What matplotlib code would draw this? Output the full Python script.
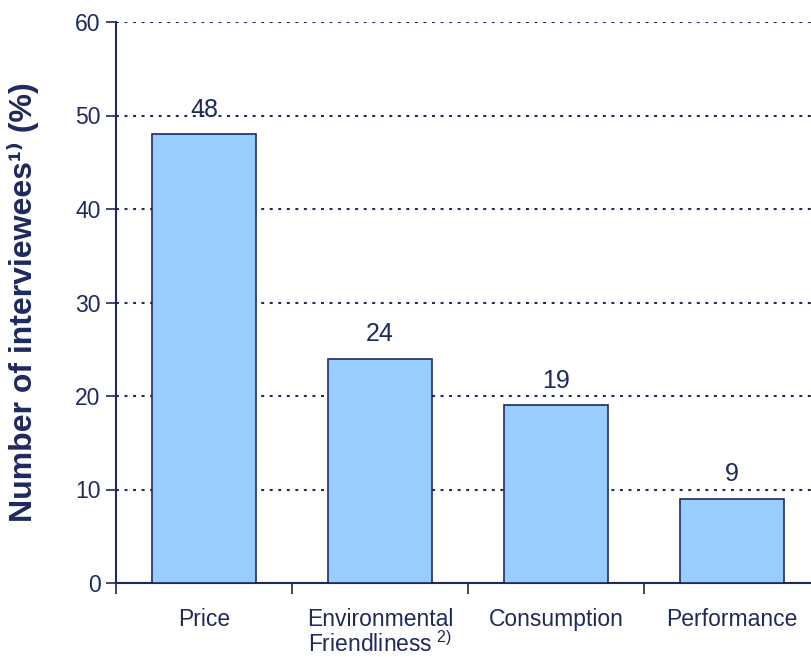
import matplotlib
matplotlib.use("Agg")
import matplotlib.pyplot as plt

# data
categories = ["Price", "Environmental\nFriendliness$^{\\ 2)}$", "Consumption", "Performance"]
values = [48, 24, 19, 9]
y_ticks = [0, 10, 20, 30, 40, 50, 60]

navy = "#1E2A5E"
bar_fill = "#99CCFF"

plt.rcParams["font.family"] = ["Liberation Sans", "DejaVu Sans"]
plt.rcParams["mathtext.fontset"] = "custom"
plt.rcParams["mathtext.rm"] = "Liberation Sans"
plt.rcParams["mathtext.bf"] = "Liberation Sans:bold"

fig = plt.figure(figsize=(8.11, 6.57), dpi=100)
ax = fig.add_axes([116 / 811, 74 / 657, 704 / 811, 561 / 657])

x = list(range(len(categories)))
ax.bar(x, values, width=0.59, color=bar_fill, edgecolor=navy, linewidth=1.2, zorder=3)

for xi, v in zip(x, values):
    ax.annotate(str(v), (xi, v), xytext=(0, 9), textcoords="offset points",
                ha="center", va="bottom", fontsize=18, color=navy)

ax.set_xlim(-0.5, len(categories) - 0.5)
ax.set_ylim(0, 60)
ax.set_yticks(y_ticks)
ax.tick_params(axis="y", labelsize=16.5, colors=navy, length=7, width=1.2, pad=4)

# category labels between boundary ticks
ax.set_xticks([i - 0.5 for i in range(len(categories) + 1)], minor=False)
ax.set_xticklabels([])
ax.tick_params(axis="x", length=8, width=1.2, colors=navy)
ax.set_xticks(x, minor=True)
ax.set_xticklabels(categories, minor=True, fontsize=16.5, color=navy, linespacing=1.0)
ax.tick_params(axis="x", which="minor", length=0, pad=18)

ax.yaxis.grid(True, linestyle=(0, (1.4, 2.7)), linewidth=1.5, color=navy, zorder=0)
ax.set_axisbelow(True)

for s in ["top", "right"]:
    ax.spines[s].set_visible(False)
for s in ["left", "bottom"]:
    ax.spines[s].set_color(navy)
    ax.spines[s].set_linewidth(1.5)

ax.set_ylabel("Number of interviewees¹⁾ (%)", fontsize=23, fontweight="bold",
              color=navy, fontfamily=["Liberation Sans", "DejaVu Sans"])
ax.yaxis.set_label_coords(-77 / 704, 0.5)

fig.savefig("out.png", dpi=100)
